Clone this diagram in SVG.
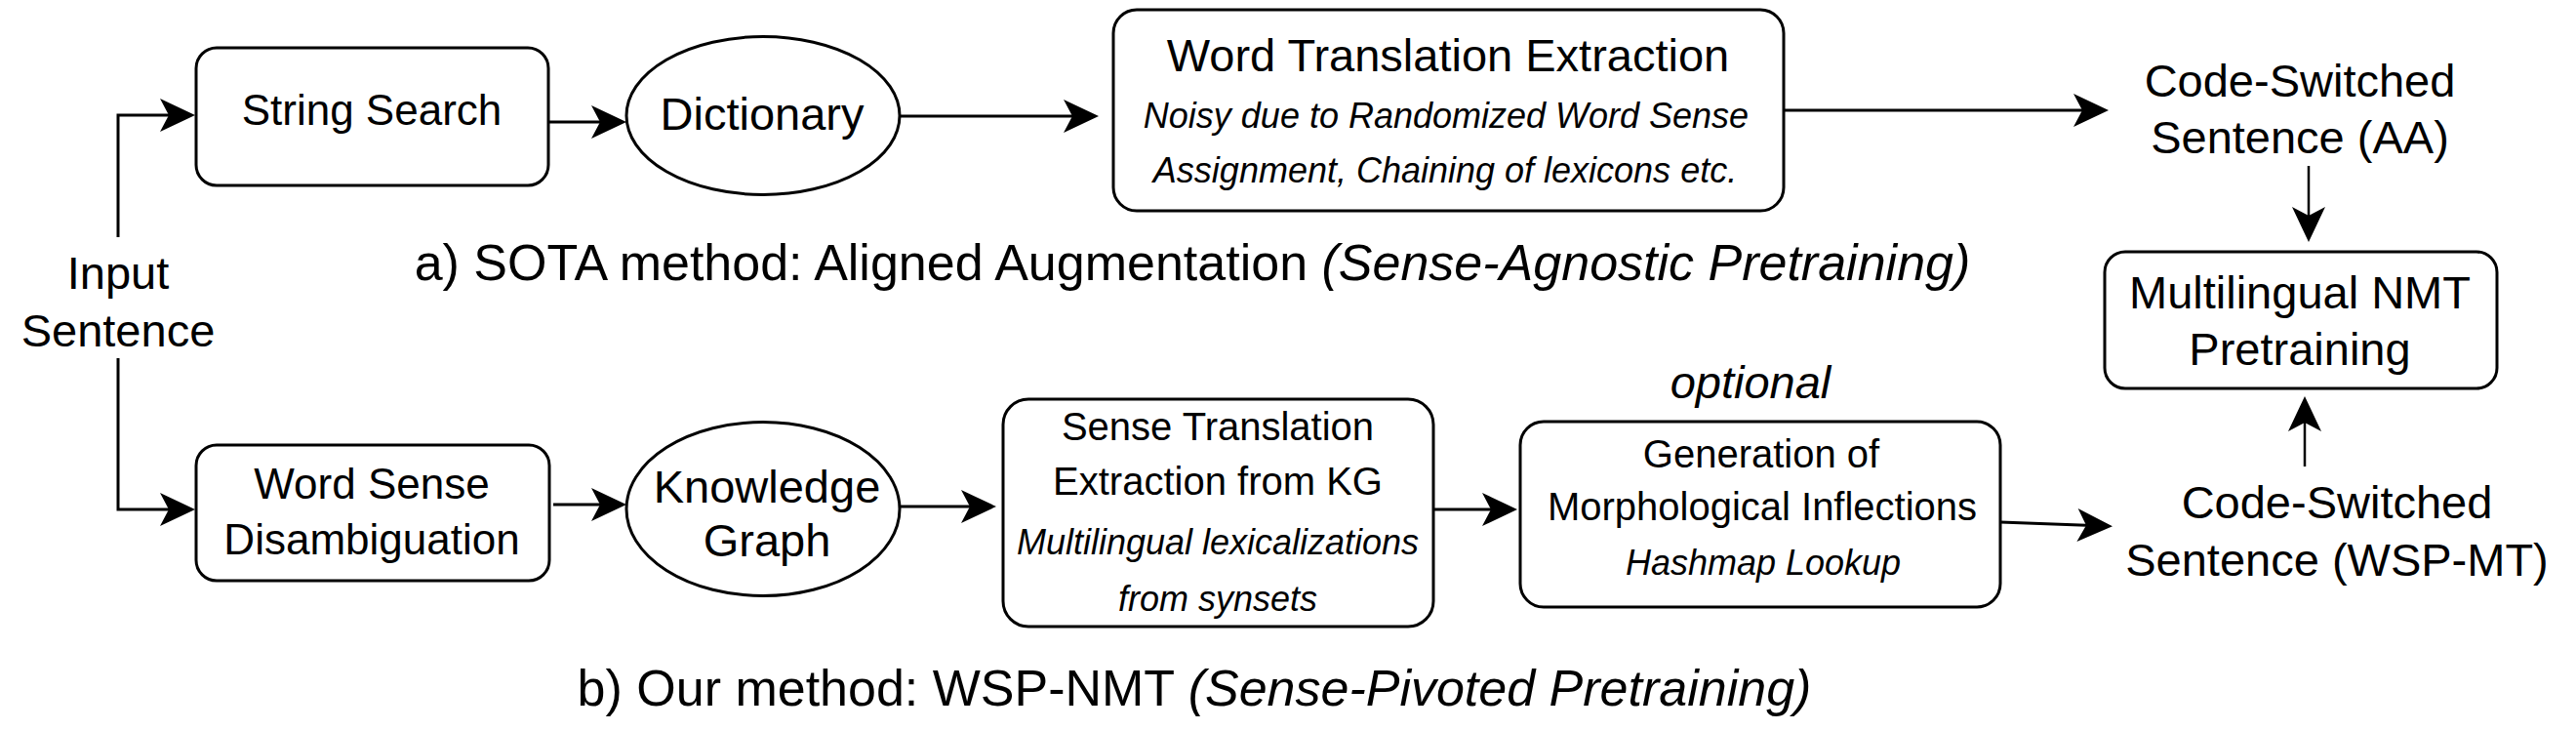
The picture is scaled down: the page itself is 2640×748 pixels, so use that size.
<svg xmlns="http://www.w3.org/2000/svg" width="2640" height="748" viewBox="0 0 2640 748">
<style>
text{font-family:"Liberation Sans",Arial,Helvetica,sans-serif;fill:#000;text-anchor:middle}
.box{fill:#fff;stroke:#000;stroke-width:3}
.l47{font-size:47px}
.l44{font-size:44px}
.l40{font-size:40px}
.i36{font-size:36px;font-style:italic}
.ttl{font-size:52px}
.it{font-style:italic}
.con{fill:none;stroke:#000;stroke-width:3}
.thin{stroke-width:2.5}
</style>
<defs>
<marker id="ah" markerUnits="userSpaceOnUse" viewBox="-18 -19 40 38" markerWidth="40" markerHeight="38" refX="0" refY="0" orient="auto">
<path d="M-16,-17 L20,0 L-16,17 L-7,0 Z" fill="#000"/>
</marker>
</defs>
<rect width="2640" height="748" fill="#fff"/>

<g id="connectors">
<path class="con" d="M121,243 V118 H180" marker-end="url(#ah)"/>
<path class="con" d="M121,367 V522 H180" marker-end="url(#ah)"/>
<path class="con" d="M562,125 H622" marker-end="url(#ah)"/>
<path class="con" d="M922,119 H1106" marker-end="url(#ah)"/>
<path class="con" d="M1828,113 H2141" marker-end="url(#ah)"/>
<path class="con thin" d="M2366,170 V228" marker-end="url(#ah)"/>
<path class="con thin" d="M2362,478 V426" marker-end="url(#ah)"/>
<path class="con" d="M567,517 H622" marker-end="url(#ah)"/>
<path class="con" d="M922,519 H1001" marker-end="url(#ah)"/>
<path class="con" d="M1469,522 H1535" marker-end="url(#ah)"/>
<path class="con" d="M2050,535 L2145,538.5" marker-end="url(#ah)"/>
</g>

<g id="input-sentence">
<text class="l47" x="121" y="296">Input</text>
<text class="l47" x="121" y="355">Sentence</text>
</g>

<g id="string-search">
<rect class="box" x="201" y="49" width="361" height="141" rx="21"/>
<text class="l44" x="381" y="127.5">String Search</text>
</g>

<g id="dictionary">
<ellipse class="box" cx="782" cy="118.5" rx="140" ry="81"/>
<text class="l47" x="781" y="132.5">Dictionary</text>
</g>

<g id="word-translation-extraction">
<rect class="box" x="1141" y="10" width="687" height="206" rx="24"/>
<text class="l47" x="1484" y="72.5">Word Translation Extraction</text>
<text class="i36" x="1482" y="131">Noisy due to Randomized Word Sense</text>
<text class="i36" x="1481" y="187">Assignment, Chaining of lexicons etc.</text>
</g>

<g id="code-switched-aa">
<text class="l47" x="2357" y="99">Code-Switched</text>
<text class="l47" x="2357" y="157">Sentence (AA)</text>
</g>

<g id="title-a">
<text class="ttl" x="1222" y="287">a) SOTA method: Aligned Augmentation <tspan class="it">(Sense-Agnostic Pretraining)</tspan></text>
</g>

<g id="multilingual-nmt">
<rect class="box" x="2157" y="258" width="402" height="140" rx="21"/>
<text class="l47" x="2357" y="316">Multilingual NMT</text>
<text class="l47" x="2357" y="374">Pretraining</text>
</g>

<g id="word-sense-disambiguation">
<rect class="box" x="201" y="456" width="362" height="139" rx="21"/>
<text class="l44" x="381" y="511">Word Sense</text>
<text class="l44" x="381" y="568">Disambiguation</text>
</g>

<g id="knowledge-graph">
<ellipse class="box" cx="782" cy="521.5" rx="140" ry="89"/>
<text class="l47" x="786" y="515">Knowledge</text>
<text class="l47" x="786" y="570">Graph</text>
</g>

<g id="sense-translation-extraction">
<rect class="box" x="1028" y="409" width="441" height="233" rx="26"/>
<text class="l40" x="1248" y="451">Sense Translation</text>
<text class="l40" x="1248" y="507">Extraction from KG</text>
<text class="i36" x="1248" y="568">Multilingual lexicalizations</text>
<text class="i36" x="1248" y="626">from synsets</text>
</g>

<g id="optional-label">
<text class="l47 it" x="1794" y="408">optional</text>
</g>

<g id="generation-inflections">
<rect class="box" x="1558" y="432" width="492" height="190" rx="24"/>
<text class="l40" x="1805" y="478.5">Generation of</text>
<text class="l40" x="1806" y="533">Morphological Inflections</text>
<text class="i36" x="1807" y="589">Hashmap Lookup</text>
</g>

<g id="code-switched-wsp">
<text class="l47" x="2395" y="531">Code-Switched</text>
<text class="l47" x="2395" y="590">Sentence (WSP-MT)</text>
</g>

<g id="title-b">
<text class="ttl" x="1224" y="723">b) Our method: WSP-NMT <tspan class="it">(Sense-Pivoted Pretraining)</tspan></text>
</g>
</svg>
